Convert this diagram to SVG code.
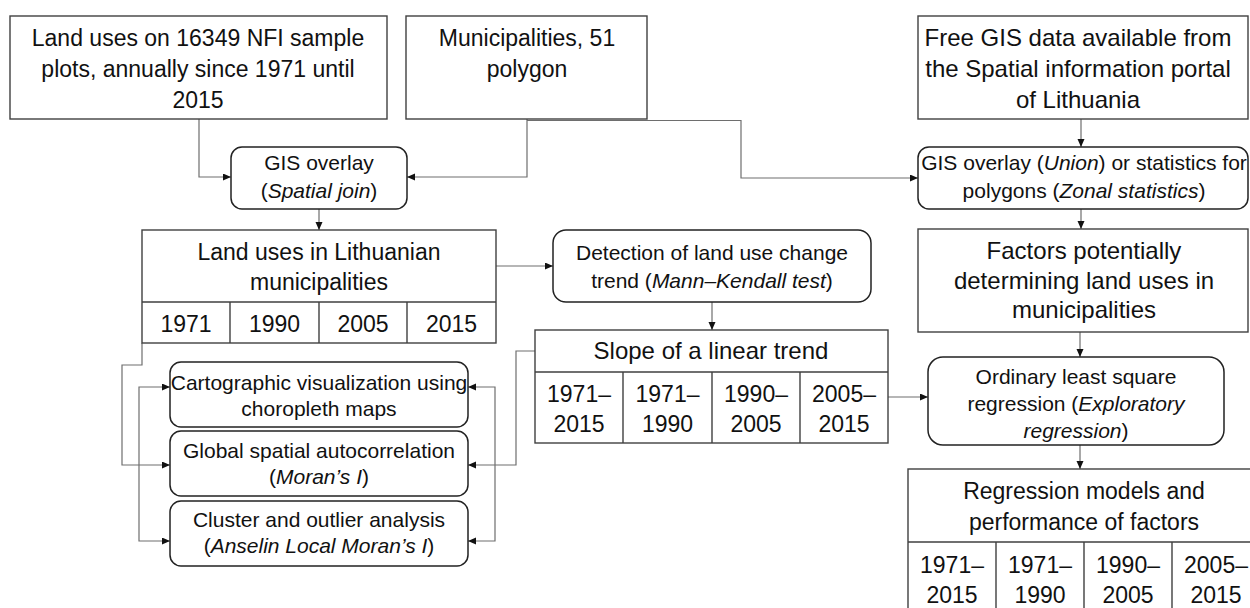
<svg xmlns="http://www.w3.org/2000/svg" width="1250" height="608" viewBox="0 0 1250 608">
<style>
  .box { fill: #ffffff; stroke: #404040; stroke-width: 1.4; }
  .rbox { fill: #ffffff; stroke: #222222; stroke-width: 1.5; }
  .div { stroke: #404040; stroke-width: 1.4; fill: none; }
  .conn { fill: none; stroke: #6e6e6e; stroke-width: 1.2; }
  .t { font-family: "Liberation Sans", Arial, sans-serif; fill: #111111; text-anchor: middle; }
  .big { font-size: 23px; }
  .xl { font-size: 24px; }
  .sm { font-size: 21px; }
  .i { font-style: italic; }
</style>
<defs>
  <marker id="arr" markerUnits="userSpaceOnUse" markerWidth="9" markerHeight="8" refX="8" refY="3.5" orient="auto">
    <path d="M0,0 L8,3.5 L0,7 z" fill="#111111"/>
  </marker>
</defs>
<rect width="1250" height="608" fill="#ffffff"/>

<g id="connectors">
  <path class="conn" d="M199,119 V177 H231" marker-end="url(#arr)"/>
  <path class="conn" d="M527,119 V177 H407" marker-end="url(#arr)"/>
  <path class="conn" d="M527,120.5 H741 V178 H918" marker-end="url(#arr)"/>
  <path class="conn" d="M319,209 V230" marker-end="url(#arr)"/>
  <path class="conn" d="M1081,119 V147" marker-end="url(#arr)"/>
  <path class="conn" d="M1081,209 V229" marker-end="url(#arr)"/>
  <path class="conn" d="M1080,332 V357" marker-end="url(#arr)"/>
  <path class="conn" d="M1080,445 V469" marker-end="url(#arr)"/>
  <path class="conn" d="M496,266 H553" marker-end="url(#arr)"/>
  <path class="conn" d="M712,302 V330" marker-end="url(#arr)"/>
  <path class="conn" d="M888,397 H928" marker-end="url(#arr)"/>
  <path class="conn" d="M142,343 V365 H122 V465 H170" marker-end="url(#arr)"/>
  <path class="conn" d="M139,465 V387 H170" marker-end="url(#arr)"/>
  <path class="conn" d="M139,465 V541 H170" marker-end="url(#arr)"/>
  <path class="conn" d="M535,351 H516 V465 H468" marker-end="url(#arr)"/>
  <path class="conn" d="M495,465 V387 H468" marker-end="url(#arr)"/>
  <path class="conn" d="M495,465 V541 H468" marker-end="url(#arr)"/>
</g>

<g id="nfi-plots">
  <rect class="box" x="10" y="16" width="377" height="103"/>
  <text class="t big" x="198" y="46">Land uses on 16349 NFI sample</text>
  <text class="t big" x="198" y="77">plots, annually since 1971 until</text>
  <text class="t big" x="198" y="108">2015</text>
</g>

<g id="municipalities">
  <rect class="box" x="406" y="16" width="241" height="103"/>
  <text class="t big" x="527" y="46">Municipalities, 51</text>
  <text class="t big" x="527" y="77">polygon</text>
</g>

<g id="free-gis">
  <rect class="box" x="918" y="16" width="330" height="103"/>
  <text class="t xl" x="1078" y="46">Free GIS data available from</text>
  <text class="t xl" x="1078" y="77">the Spatial information portal</text>
  <text class="t xl" x="1078" y="108">of Lithuania</text>
</g>

<g id="spatial-join">
  <rect class="rbox" x="231" y="147" width="176" height="62" rx="11"/>
  <text class="t sm" x="319" y="170">GIS overlay</text>
  <text class="t sm" x="319" y="198">(<tspan class="i">Spatial join</tspan>)</text>
</g>

<g id="union">
  <rect class="rbox" x="918" y="147" width="330" height="62" rx="11"/>
  <text class="t sm" x="1084" y="170">GIS overlay (<tspan class="i">Union</tspan>) or statistics for</text>
  <text class="t sm" x="1084" y="198">polygons (<tspan class="i">Zonal statistics</tspan>)</text>
</g>

<g id="land-uses">
  <rect class="box" x="142" y="230" width="354" height="113"/>
  <path class="div" d="M142,302 H496 M230,302 V343 M319,302 V343 M407,302 V343"/>
  <text class="t big" x="319" y="260">Land uses in Lithuanian</text>
  <text class="t big" x="319" y="290">municipalities</text>
  <text class="t big" x="186" y="332">1971</text>
  <text class="t big" x="274.5" y="332">1990</text>
  <text class="t big" x="363" y="332">2005</text>
  <text class="t big" x="451.5" y="332">2015</text>
</g>

<g id="detection">
  <rect class="rbox" x="553" y="230" width="318" height="72" rx="13"/>
  <text class="t sm" x="712" y="260">Detection of land use change</text>
  <text class="t sm" x="712" y="288">trend (<tspan class="i">Mann–Kendall test</tspan>)</text>
</g>

<g id="factors">
  <rect class="box" x="918" y="229" width="330" height="103"/>
  <text class="t xl" x="1084" y="259">Factors potentially</text>
  <text class="t xl" x="1084" y="289">determining land uses in</text>
  <text class="t xl" x="1084" y="318">municipalities</text>
</g>

<g id="slope">
  <rect class="box" x="535" y="330" width="353" height="113"/>
  <path class="div" d="M535,372 H888 M623,372 V443 M712,372 V443 M800,372 V443"/>
  <text class="t xl" x="711" y="359">Slope of a linear trend</text>
  <text class="t big" x="579" y="402">1971–</text>
  <text class="t big" x="579" y="432">2015</text>
  <text class="t big" x="667.5" y="402">1971–</text>
  <text class="t big" x="667.5" y="432">1990</text>
  <text class="t big" x="756" y="402">1990–</text>
  <text class="t big" x="756" y="432">2005</text>
  <text class="t big" x="844" y="402">2005–</text>
  <text class="t big" x="844" y="432">2015</text>
</g>

<g id="ols">
  <rect class="rbox" x="928" y="357" width="296" height="88" rx="15"/>
  <text class="t sm" x="1076" y="384">Ordinary least square</text>
  <text class="t sm" x="1076" y="411">regression (<tspan class="i">Exploratory</tspan></text>
  <text class="t sm" x="1076" y="438"><tspan class="i">regression</tspan>)</text>
</g>

<g id="cartographic">
  <rect class="rbox" x="170" y="362" width="298" height="65" rx="11"/>
  <text class="t sm" x="319" y="390">Cartographic visualization using</text>
  <text class="t sm" x="319" y="416">choropleth maps</text>
</g>

<g id="global-moran">
  <rect class="rbox" x="170" y="431" width="298" height="65" rx="11"/>
  <text class="t sm" x="319" y="458">Global spatial autocorrelation</text>
  <text class="t sm" x="319" y="484">(<tspan class="i">Moran’s I</tspan>)</text>
</g>

<g id="cluster">
  <rect class="rbox" x="170" y="501" width="298" height="65" rx="11"/>
  <text class="t sm" x="319" y="527">Cluster and outlier analysis</text>
  <text class="t sm" x="319" y="553">(<tspan class="i">Anselin Local Moran’s I</tspan>)</text>
</g>

<g id="regression-models">
  <rect class="box" x="908" y="469" width="352" height="160"/>
  <path class="div" d="M908,542 H1260 M996,542 V608 M1084,542 V608 M1172,542 V608"/>
  <text class="t big" x="1084" y="499">Regression models and</text>
  <text class="t big" x="1084" y="530">performance of factors</text>
  <text class="t big" x="952" y="573">1971–</text>
  <text class="t big" x="952" y="603">2015</text>
  <text class="t big" x="1040" y="573">1971–</text>
  <text class="t big" x="1040" y="603">1990</text>
  <text class="t big" x="1128" y="573">1990–</text>
  <text class="t big" x="1128" y="603">2005</text>
  <text class="t big" x="1216" y="573">2005–</text>
  <text class="t big" x="1216" y="603">2015</text>
</g>
</svg>
